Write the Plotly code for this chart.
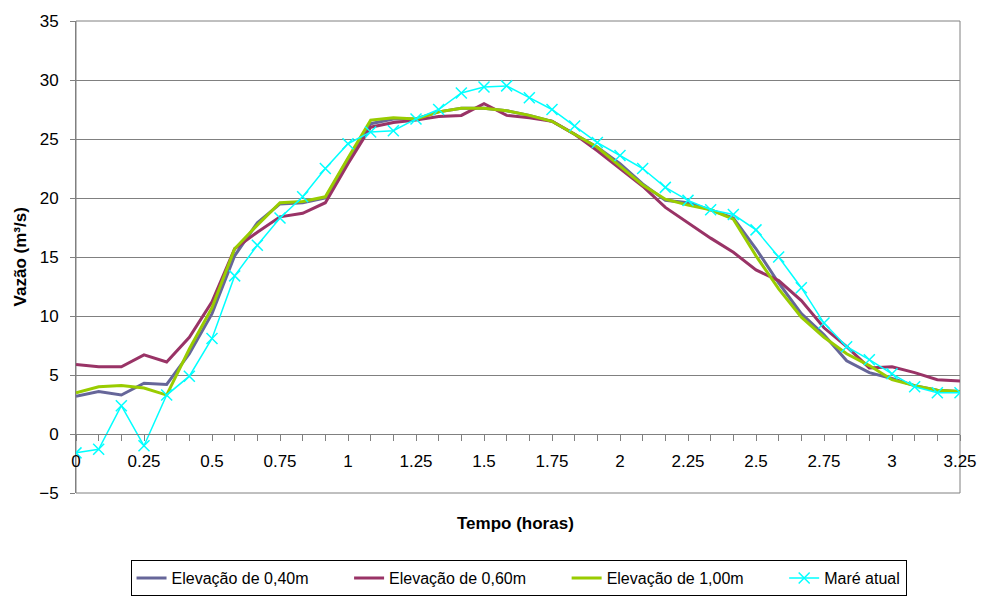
import plotly.graph_objects as go

# Time axis (hours), one sample every 5 minutes
tempo_h = [0, 0.0833, 0.1667, 0.25, 0.3333, 0.4167, 0.5, 0.5833, 0.6667, 0.75,
           0.8333, 0.9167, 1.0, 1.0833, 1.1667, 1.25, 1.3333, 1.4167, 1.5, 1.5833,
           1.6667, 1.75, 1.8333, 1.9167, 2.0, 2.0833, 2.1667, 2.25, 2.3333, 2.4167,
           2.5, 2.5833, 2.6667, 2.75, 2.8333, 2.9167, 3.0, 3.0833, 3.1667, 3.25]

# Discharge (m3/s) for each scenario
elev_040 = [3.2, 3.6, 3.3, 4.3, 4.2, 6.8, 10.2, 15.1, 17.9, 19.5,
            19.6, 20.0, 23.3, 26.3, 26.7, 26.7, 27.3, 27.6, 27.6, 27.4,
            27.0, 26.5, 25.4, 24.3, 22.9, 21.2, 19.8, 19.6, 19.0, 18.3,
            15.7, 12.8, 10.2, 8.4, 6.2, 5.2, 4.7, 4.1, 3.7, 3.6]
elev_060 = [5.9, 5.7, 5.7, 6.7, 6.1, 8.2, 11.2, 15.7, 17.1, 18.4,
            18.7, 19.6, 22.9, 26.0, 26.4, 26.6, 26.9, 27.0, 28.0, 27.0,
            26.8, 26.5, 25.4, 24.0, 22.5, 21.0, 19.2, 17.9, 16.6, 15.4,
            13.9, 13.0, 11.3, 9.0, 7.4, 5.6, 5.7, 5.2, 4.6, 4.5]
elev_100 = [3.5, 4.0, 4.1, 3.9, 3.3, 7.2, 10.7, 15.7, 17.7, 19.6,
            19.7, 20.1, 23.4, 26.6, 26.8, 26.7, 27.3, 27.6, 27.6, 27.4,
            27.0, 26.5, 25.4, 24.3, 22.7, 21.1, 19.9, 19.4, 19.0, 18.2,
            15.1, 12.3, 9.9, 8.2, 6.8, 5.8, 4.6, 4.1, 3.7, 3.6]
mare_atual = [-1.6, -1.3, 2.4, -1.0, 3.3, 4.9, 8.1, 13.4, 16.0, 18.3,
              20.1, 22.5, 24.6, 25.6, 25.7, 26.7, 27.5, 28.9, 29.4, 29.5,
              28.5, 27.5, 26.1, 24.7, 23.6, 22.5, 20.9, 19.8, 19.0, 18.6,
              17.3, 15.0, 12.4, 9.4, 7.4, 6.3, 5.1, 4.0, 3.5, 3.5]

x_tick_vals = [0, 0.25, 0.5, 0.75, 1, 1.25, 1.5, 1.75, 2, 2.25, 2.5, 2.75, 3, 3.25]
x_tick_text = ["0", "0.25", "0.5", "0.75", "1", "1.25", "1.5", "1.75", "2",
               "2.25", "2.5", "2.75", "3", "3.25"]

FONT = "Liberation Sans, Arial, sans-serif"
FS = 17
LEG_FS = 16
GRID = "#808080"
PAD = "\u00a0" * 8  # extra spacing between legend entries

fig = go.Figure()
fig.add_trace(go.Scatter(x=tempo_h, y=elev_040, mode="lines", name="Elevação de 0,40m" + PAD,
                         line=dict(color="#666699", width=3)))
fig.add_trace(go.Scatter(x=tempo_h, y=elev_060, mode="lines", name="Elevação de 0,60m" + PAD,
                         line=dict(color="#993366", width=3)))
fig.add_trace(go.Scatter(x=tempo_h, y=elev_100, mode="lines", name="Elevação de 1,00m" + PAD,
                         line=dict(color="#99CC00", width=3)))
fig.add_trace(go.Scatter(x=tempo_h, y=mare_atual, mode="lines+markers", name="Maré atual",
                         line=dict(color="#00FFFF", width=1.5),
                         marker=dict(symbol="x-thin", size=11,
                                     line=dict(color="#00FFFF", width=1.5))))

fig.update_layout(
    width=989, height=598,
    margin=dict(l=76, r=23, t=20, b=105),
    plot_bgcolor="white", paper_bgcolor="white",
    font=dict(family=FONT, size=FS, color="black"),
    showlegend=True,
    legend=dict(orientation="h", xref="container", yref="container",
                x=0.5243, xanchor="center", y=0.0334, yanchor="middle",
                bordercolor="black", borderwidth=1, bgcolor="white",
                font=dict(family=FONT, size=LEG_FS), tracegroupgap=0),
    xaxis=dict(range=[0, 3.25], anchor="free", position=0.125,
               tickmode="array", tickvals=x_tick_vals, ticktext=x_tick_text,
               ticks="outside", ticklen=6, tickcolor=GRID, ticklabelstandoff=6,
               minor=dict(tickmode="array", tickvals=tempo_h, ticks="outside",
                          ticklen=6, tickcolor=GRID),
               showgrid=False, zeroline=False, showline=True, linecolor=GRID,
               linewidth=1, tickfont=dict(family=FONT, size=FS)),
    yaxis=dict(range=[-5, 35], dtick=5, tick0=0, ticks="outside", ticklen=5,
               tickcolor=GRID, showgrid=True, gridcolor=GRID, gridwidth=1,
               zeroline=False, showline=True, linecolor=GRID, linewidth=1,
               ticklabelstandoff=8, tickfont=dict(family=FONT, size=FS)),
    shapes=[dict(type="rect", xref="paper", yref="paper", x0=0, x1=1, y0=0, y1=1,
                 line=dict(color=GRID, width=1), layer="below")],
    annotations=[
        dict(text="<b>Tempo (horas)</b>", xref="paper", yref="paper",
             x=0.497, y=-0.0655, xanchor="center", yanchor="middle",
             showarrow=False, font=dict(family=FONT, size=FS)),
        dict(text="<b>Vazão (m³/s)</b>", xref="paper", yref="paper",
             x=-0.0629, y=0.5, xanchor="center", yanchor="middle", textangle=-90,
             showarrow=False, font=dict(family=FONT, size=FS)),
    ],
)

fig.write_html("out.html")
